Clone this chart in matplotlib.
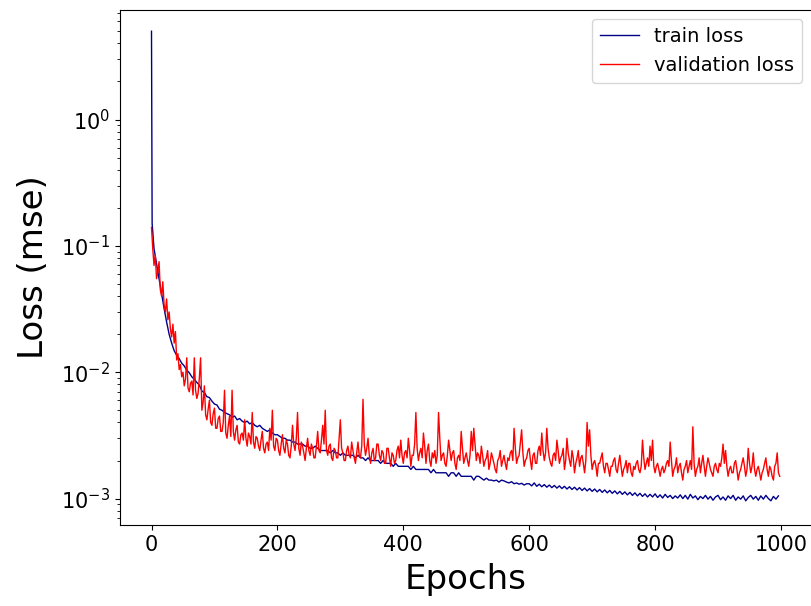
import matplotlib
matplotlib.use("Agg")
import matplotlib.pyplot as plt

## training loss logged at epoch 0, 1, then every 4th epoch
train_epochs = [0, 1] + list(range(4, 1000, 4))

## training loss (mse), one row per 40 epochs
train_loss = [
    5.0, 0.15, 0.095, 0.072, 0.055, 0.042, 0.032, 0.025, 0.020, 0.017, 0.0148,
    0.0136, 0.0128, 0.0118, 0.0112, 0.0104, 0.0099, 0.0092, 0.0088, 0.0083, 0.0079,
    0.0071, 0.0069, 0.0064, 0.0063, 0.0059, 0.0056, 0.0055, 0.0051, 0.0050, 0.0048,
    0.0047, 0.0046, 0.0044, 0.0045, 0.0042, 0.0043, 0.0041, 0.0040, 0.0041, 0.0039,
    0.0040, 0.0038, 0.0037, 0.0038, 0.0036, 0.0035, 0.0034, 0.0035, 0.0033, 0.0032,
    0.0032, 0.0031, 0.0030, 0.0030, 0.0029, 0.0029, 0.0028, 0.0028, 0.0027, 0.0027,
    0.0027, 0.0026, 0.0026, 0.0025, 0.0025, 0.0026, 0.0025, 0.0024, 0.0024, 0.0024,
    0.0024, 0.0023, 0.0024, 0.0023, 0.0023, 0.0022, 0.0023, 0.0022, 0.0022, 0.0022,
    0.0022, 0.0021, 0.0022, 0.0021, 0.0021, 0.0020, 0.0021, 0.0020, 0.0020, 0.0020,
    0.0020, 0.0019, 0.0020, 0.0019, 0.0019, 0.0019, 0.0018, 0.0019, 0.0018, 0.0018,
    0.0018, 0.0018, 0.0018, 0.0017, 0.0018, 0.0017, 0.0017, 0.0017, 0.0017, 0.0017,
    0.0017, 0.0016, 0.0017, 0.0016, 0.0016, 0.0016, 0.0016, 0.0016, 0.0015, 0.0016,
    0.0016, 0.0015, 0.0016, 0.0015, 0.0015, 0.0015, 0.0015, 0.0015, 0.0014, 0.0015,
    0.0015, 0.00145, 0.0014, 0.00145, 0.0014, 0.0014, 0.00138, 0.0014, 0.00135, 0.0014,
    0.00138, 0.00135, 0.00133, 0.00136, 0.00131, 0.00133, 0.0013, 0.00132, 0.00128, 0.00131,
    0.00131, 0.00126, 0.00133, 0.00125, 0.00130, 0.00124, 0.00129, 0.00123, 0.00128, 0.00122,
    0.00127, 0.00121, 0.00126, 0.00120, 0.00125, 0.00119, 0.00124, 0.00118, 0.00123, 0.00117,
    0.00122, 0.00116, 0.00121, 0.00115, 0.00120, 0.00114, 0.00119, 0.00113, 0.00118, 0.00112,
    0.00117, 0.00111, 0.00116, 0.00110, 0.00115, 0.00109, 0.00114, 0.00108, 0.00113, 0.00107,
    0.00112, 0.00106, 0.00111, 0.00105, 0.00110, 0.00104, 0.00109, 0.00103, 0.00108, 0.00103,
    0.00109, 0.00102, 0.00107, 0.00101, 0.00108, 0.00102, 0.00106, 0.00100, 0.00105, 0.00101,
    0.00107, 0.00100, 0.00106, 0.00099, 0.00108, 0.00101, 0.00105, 0.00098, 0.00104, 0.00100,
    0.00106, 0.00099, 0.00104, 0.00097, 0.00103, 0.00106, 0.00098, 0.00103, 0.00097, 0.00105,
    0.00100, 0.00106, 0.00097, 0.00103, 0.00099, 0.00105, 0.00096, 0.00102, 0.00106, 0.00099,
    0.00104, 0.00097, 0.00105, 0.00099, 0.00106, 0.00100, 0.00096, 0.00104, 0.00099, 0.00105,
]

## validation loss logged every 2nd epoch
val_epochs = list(range(0, 1000, 2))

## validation loss (mse), one row per 40 epochs
val_loss = [
    0.14, 0.095, 0.07, 0.085, 0.055, 0.062, 0.075, 0.045, 0.040, 0.052,
    0.034, 0.030, 0.038, 0.026, 0.030, 0.022, 0.019, 0.024, 0.017, 0.021,
    0.0125, 0.014, 0.0105, 0.0115, 0.0092, 0.0100, 0.0078, 0.0088, 0.013, 0.0075,
    0.0070, 0.0082, 0.0085, 0.0066, 0.013, 0.0072, 0.0062, 0.0068, 0.0090, 0.013,
    0.0050, 0.0058, 0.0078, 0.0046, 0.0042, 0.0051, 0.0060, 0.0040, 0.0038, 0.0047,
    0.0052, 0.0036, 0.0036, 0.0043, 0.0045, 0.0034, 0.0034, 0.0040, 0.0072, 0.0033,
    0.0030, 0.0038, 0.0045, 0.0031, 0.0072, 0.0034, 0.0029, 0.0035, 0.0038, 0.0028,
    0.0027, 0.0032, 0.0033, 0.0029, 0.0042, 0.0030, 0.0026, 0.0033, 0.0031, 0.0027,
    0.0048, 0.0028, 0.0025, 0.0031, 0.0030, 0.0026, 0.0024, 0.0029, 0.0034, 0.0025,
    0.0023, 0.0027, 0.0028, 0.0024, 0.0036, 0.0029, 0.0050, 0.0026, 0.0024, 0.0030,
    0.0029, 0.0024, 0.0022, 0.0027, 0.0032, 0.0025, 0.0023, 0.0029, 0.0027, 0.0022,
    0.0021, 0.0026, 0.0038, 0.0027, 0.0024, 0.0030, 0.0048, 0.0025, 0.0022, 0.0028,
    0.0026, 0.0023, 0.0020, 0.0025, 0.0030, 0.0024, 0.0022, 0.0027, 0.0025, 0.0021,
    0.0021, 0.0026, 0.0034, 0.0024, 0.0023, 0.0029, 0.0038, 0.0027, 0.0050, 0.0024,
    0.0022, 0.0026, 0.0027, 0.0021, 0.0020, 0.0025, 0.0024, 0.0021, 0.0021, 0.0030,
    0.0042, 0.0025, 0.0023, 0.0020, 0.0020, 0.0024, 0.0026, 0.0022, 0.0021, 0.0028,
    0.0024, 0.0021, 0.0019, 0.0023, 0.0028, 0.0022, 0.0021, 0.0026, 0.0061, 0.0027,
    0.0022, 0.0025, 0.0030, 0.0022, 0.0019, 0.0023, 0.0025, 0.0020, 0.0021, 0.0027,
    0.0027, 0.0022, 0.0020, 0.0024, 0.0023, 0.0019, 0.0019, 0.0025, 0.0025, 0.0021,
    0.0018, 0.0023, 0.0022, 0.0019, 0.0020, 0.0024, 0.0026, 0.0021, 0.0029, 0.0022,
    0.0019, 0.0023, 0.0024, 0.0021, 0.0030, 0.0024, 0.0018, 0.0022, 0.0022, 0.0027,
    0.0048, 0.0025, 0.0020, 0.0023, 0.0025, 0.0021, 0.0033, 0.0026, 0.0019, 0.0024,
    0.0027, 0.0020, 0.0018, 0.0023, 0.0021, 0.0024, 0.0019, 0.0022, 0.0048, 0.0030,
    0.0020, 0.0022, 0.0023, 0.0019, 0.0018, 0.0022, 0.0029, 0.0024, 0.0020, 0.0023,
    0.0024, 0.0019, 0.0017, 0.0021, 0.0022, 0.0020, 0.0034, 0.0025, 0.0019, 0.0021,
    0.0023, 0.0020, 0.0018, 0.0022, 0.0034, 0.0024, 0.0036, 0.0027, 0.0020, 0.0023,
    0.0022, 0.0019, 0.0026, 0.0022, 0.0018, 0.0020, 0.0021, 0.0024, 0.0017, 0.0019,
    0.0023, 0.0021, 0.0019, 0.0017, 0.0016, 0.0020, 0.0021, 0.0024, 0.0018, 0.0020,
    0.0022, 0.0019, 0.0017, 0.0021, 0.0020, 0.0023, 0.0024, 0.0020, 0.0036, 0.0025,
    0.0019, 0.0021, 0.0022, 0.0028, 0.0035, 0.0023, 0.0018, 0.0020, 0.0021, 0.0024,
    0.0025, 0.0020, 0.0017, 0.0022, 0.0023, 0.0019, 0.0019, 0.0024, 0.0026, 0.0022,
    0.0033, 0.0024, 0.0020, 0.0023, 0.0036, 0.0025, 0.0021, 0.0019, 0.0018, 0.0022,
    0.0023, 0.0020, 0.0029, 0.0024, 0.0019, 0.0021, 0.0022, 0.0025, 0.0017, 0.0020,
    0.0030, 0.0023, 0.0020, 0.0018, 0.0024, 0.0021, 0.0016, 0.0019, 0.0021, 0.0024,
    0.0018, 0.0021, 0.0022, 0.0019, 0.0016, 0.0020, 0.0040, 0.0026, 0.0035, 0.0022,
    0.0017, 0.0019, 0.0020, 0.0018, 0.0015, 0.0019, 0.0019, 0.0021, 0.0023, 0.0018,
    0.0016, 0.0019, 0.0019, 0.0017, 0.0015, 0.0018, 0.0018, 0.0020, 0.0021, 0.0017,
    0.0016, 0.0019, 0.0022, 0.0018, 0.0015, 0.0017, 0.0018, 0.0020, 0.0016, 0.0019,
    0.0019, 0.0016, 0.0015, 0.0018, 0.0017, 0.0019, 0.0020, 0.0017, 0.0016, 0.0018,
    0.0029, 0.0021, 0.0017, 0.0019, 0.0021, 0.0018, 0.0026, 0.0020, 0.0029, 0.0018,
    0.0016, 0.0018, 0.0019, 0.0017, 0.0015, 0.0017, 0.0018, 0.0016, 0.0017, 0.0019,
    0.0020, 0.0018, 0.0028, 0.0020, 0.0015, 0.0017, 0.0018, 0.0021, 0.0016, 0.0018,
    0.0019, 0.0016, 0.0014, 0.0017, 0.0018, 0.0020, 0.0016, 0.0018, 0.0020, 0.0017,
    0.0037, 0.0019, 0.0015, 0.0017, 0.0018, 0.0021, 0.0016, 0.0019, 0.0022, 0.0018,
    0.0015, 0.0018, 0.0021, 0.0019, 0.0017, 0.0016, 0.0015, 0.0018, 0.0019, 0.0017,
    0.0016, 0.0019, 0.0018, 0.0021, 0.0027, 0.0019, 0.0024, 0.0018, 0.0015, 0.0017,
    0.0018, 0.0016, 0.0016, 0.0019, 0.0020, 0.0017, 0.0014, 0.0016, 0.0017, 0.0019,
    0.0021, 0.0018, 0.0015, 0.0017, 0.0025, 0.0019, 0.0016, 0.0018, 0.0023, 0.0017,
    0.0015, 0.0017, 0.0018, 0.0016, 0.0014, 0.0016, 0.0017, 0.0019, 0.0021, 0.0017,
    0.0015, 0.0018, 0.0017, 0.0015, 0.0014, 0.0018, 0.0019, 0.0023, 0.0016, 0.0015,
]


def main():
    fig = plt.figure(figsize=(8.11, 6.06), dpi=100)
    ax = fig.add_axes([0.148, 0.134, 0.853, 0.850])

    ax.plot(train_epochs, train_loss, color="darkblue", linewidth=1, label="train loss")
    ax.plot(val_epochs, val_loss, color="red", linewidth=1, label="validation loss")

    ax.set_yscale("log")
    ax.set_xlim(-50, 1049)
    ax.set_ylim(6.2e-4, 7.4)
    ax.set_xticks([0, 200, 400, 600, 800, 1000])

    ax.set_xlabel("Epochs", fontsize=24.5, labelpad=6)
    ax.set_ylabel("Loss (mse)", fontsize=24.5, labelpad=8)
    ax.tick_params(labelsize=15)
    ax.legend(loc="upper right", fontsize=14)

    fig.savefig("out.png", dpi=100)


if __name__ == "__main__":
    main()
